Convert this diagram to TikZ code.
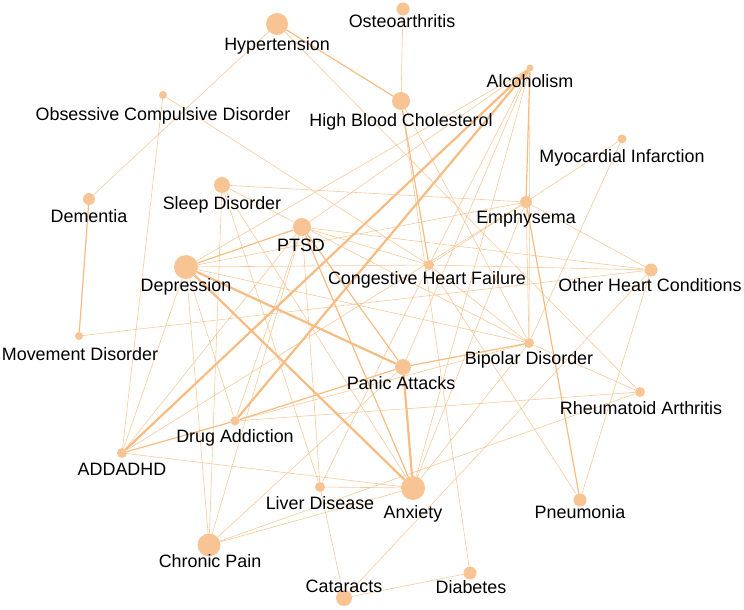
\documentclass[tikz,border=0pt]{standalone}
\usepackage{fontspec}
\setmainfont{Liberation Sans}
\definecolor{nodecol}{RGB}{248,196,148}
\definecolor{edgecol}{RGB}{247,188,130}
\pgfdeclarelayer{edges}
\pgfsetlayers{edges,main}
\begin{document}
\begin{tikzpicture}[x=1pt,y=-1pt,
  nd/.style={circle,fill=nodecol,inner sep=0pt,draw=none},
  lb/.style={anchor=base,inner sep=0pt,font=\fontsize{17.9}{20}\selectfont,text=black},
  ea/.style={draw=edgecol,line width=0.6pt,opacity=0.8},
  eb/.style={draw=edgecol,line width=1.2pt},
  ec/.style={draw=edgecol,line width=2.2pt}]
\useasboundingbox (0,0) rectangle (744,610);
% nodes
\node[nd,minimum size=22pt] (hyp) at (277,24) {};
\node[nd,minimum size=13pt] (ost) at (403,9) {};
\node[nd,minimum size=7pt] (alc) at (530,68) {};
\node[nd,minimum size=18pt] (hbc) at (401,101) {};
\node[nd,minimum size=8pt] (ocd) at (163,95) {};
\node[nd,minimum size=9pt] (myo) at (622,139) {};
\node[nd,minimum size=12pt] (dem) at (89,199) {};
\node[nd,minimum size=16pt] (slp) at (222,185) {};
\node[nd,minimum size=12pt] (emp) at (526,202) {};
\node[nd,minimum size=18pt] (ptsd) at (302,227) {};
\node[nd,minimum size=24pt] (dep) at (186,267) {};
\node[nd,minimum size=10pt] (chf) at (429,265) {};
\node[nd,minimum size=13pt] (ohc) at (651,270) {};
\node[nd,minimum size=8pt] (mov) at (79,336) {};
\node[nd,minimum size=10pt] (bip) at (529,343) {};
\node[nd,minimum size=16pt] (pan) at (403,367) {};
\node[nd,minimum size=10pt] (ra) at (640,392) {};
\node[nd,minimum size=9pt] (da) at (235,421) {};
\node[nd,minimum size=10pt] (add) at (122,453) {};
\node[nd,minimum size=10pt] (liv) at (320,487) {};
\node[nd,minimum size=24pt] (anx) at (413,488) {};
\node[nd,minimum size=13pt] (pne) at (580,500) {};
\node[nd,minimum size=23pt] (cp) at (209,545) {};
\node[nd,minimum size=16pt] (cat) at (344,598) {};
\node[nd,minimum size=13pt] (dia) at (470,573) {};
% edges
\begin{pgfonlayer}{edges}
\draw[eb] (hyp) -- (hbc);
\draw[ea] (hyp) -- (dem);
\draw[ea] (hyp) -- (ra);
\draw[ea] (ost) -- (hbc);
\draw[ea] (ocd) -- (add);
\draw[ea] (ocd) -- (chf);
\draw[eb] (dem) -- (mov);
\draw[ea] (mov) -- (ohc);
\draw[ea] (slp) -- (emp);
\draw[ea] (slp) -- (cp);
\draw[ea] (slp) -- (anx);
\draw[ea] (slp) -- (liv);
\draw[ea] (slp) -- (bip);
\draw[eb] (dep) -- (ptsd);
\draw[ea] (dep) -- (emp);
\draw[ea] (dep) -- (alc);
\draw[ec] (dep) -- (pan);
\draw[ec] (dep) -- (anx);
\draw[ea] (dep) -- (add);
\draw[ea] (dep) -- (cp);
\draw[ea] (dep) -- (chf);
\draw[ea] (dep) -- (bip);
\draw[ea] (dep) -- (da);
\draw[eb] (ptsd) -- (pan);
\draw[eb] (ptsd) -- (anx);
\draw[ea] (ptsd) -- (add);
\draw[ea] (ptsd) -- (cp);
\draw[ea] (ptsd) -- (liv);
\draw[ea] (ptsd) -- (chf);
\draw[ea] (ptsd) -- (alc);
\draw[ea] (ptsd) -- (ohc);
\draw[ea] (ptsd) -- (da);
\draw[ea] (chf) -- (ohc);
\draw[ea] (chf) -- (emp);
\draw[ea] (chf) -- (alc);
\draw[eb] (chf) -- (hbc);
\draw[ea] (chf) -- (bip);
\draw[ea] (chf) -- (pne);
\draw[ea] (chf) -- (liv);
\draw[ea] (hbc) -- (dia);
\draw[ea] (hbc) -- (bip);
\draw[ec] (alc) -- (add);
\draw[ec] (alc) -- (da);
\draw[ea] (alc) -- (pan);
\draw[ea] (alc) -- (anx);
\draw[eb] (alc) -- (emp);
\draw[ea] (alc) -- (bip);
\draw[ea] (emp) -- (myo);
\draw[ea] (emp) -- (ohc);
\draw[eb] (emp) -- (pne);
\draw[ea] (emp) -- (bip);
\draw[ea] (emp) -- (add);
\draw[ea] (emp) -- (anx);
\draw[ea] (myo) -- (bip);
\draw[ea] (ohc) -- (pne);
\draw[ea] (ohc) -- (cat);
\draw[eb] (pan) -- (bip);
\draw[ec] (pan) -- (anx);
\draw[ea] (pan) -- (cp);
\draw[eb] (pan) -- (da);
\draw[ea] (bip) -- (ra);
\draw[ea] (bip) -- (da);
\draw[ea] (bip) -- (anx);
\draw[ea] (ra) -- (da);
\draw[ea] (ra) -- (cp);
\draw[eb] (add) -- (da);
\draw[ea] (add) -- (anx);
\draw[ea] (cp) -- (anx);
\draw[ea] (liv) -- (anx);
\draw[ea] (liv) -- (cat);
\draw[ea] (cat) -- (dia);
\end{pgfonlayer}
% labels
\node[lb] (lhyp) at (277,51) {Hypertension};
\node[lb] (lost) at (402,28) {Osteoarthritis};
\node[lb] (lalc) at (530,87) {Alcoholism};
\node[lb] (lhbc) at (401,126) {High Blood Cholesterol};
\node[lb] (locd) at (163,120) {Obsessive Compulsive Disorder};
\node[lb] (lmyo) at (622,162) {Myocardial Infarction};
\node[lb] (ldem) at (89,222) {Dementia};
\node[lb] (lslp) at (222,209) {Sleep Disorder};
\node[lb] (lemp) at (526,223) {Emphysema};
\node[lb] (lptsd) at (301,251) {PTSD};
\node[lb] (ldep) at (186,291) {Depression};
\node[lb] (lchf) at (427,284) {Congestive Heart Failure};
\node[lb] (lohc) at (650,291) {Other Heart Conditions};
\node[lb] (lmov) at (80,360) {Movement Disorder};
\node[lb] (lbip) at (529,364) {Bipolar Disorder};
\node[lb] (lpan) at (401,389) {Panic Attacks};
\node[lb] (lra) at (641,414) {Rheumatoid Arthritis};
\node[lb] (lda) at (235,442) {Drug Addiction};
\node[lb] (ladd) at (122,475) {ADDADHD};
\node[lb] (lliv) at (320,509) {Liver Disease};
\node[lb] (lanx) at (413,518) {Anxiety};
\node[lb] (lpne) at (580,518) {Pneumonia};
\node[lb] (lcp) at (210,567) {Chronic Pain};
\node[lb] (lcat) at (344,592) {Cataracts};
\node[lb] (ldia) at (471,593) {Diabetes};
\end{tikzpicture}
\end{document}
